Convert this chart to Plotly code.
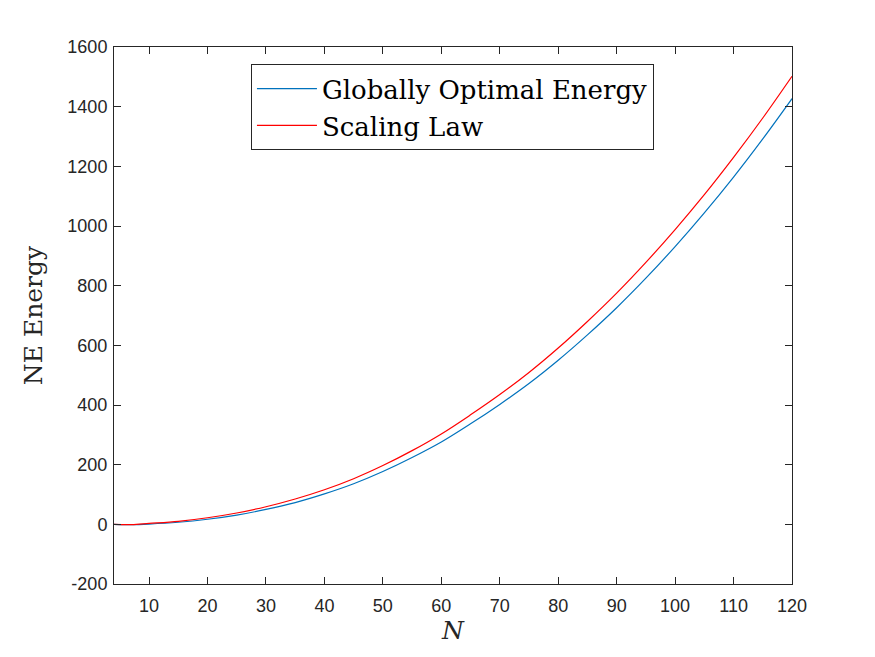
import plotly.graph_objects as go

N = [4, 7, 10, 15, 20, 25, 30, 35, 40, 45, 50, 55, 60, 65, 70, 75, 80, 85, 90, 95, 100, 105, 110, 115, 120]
globally_optimal = [0, -1, 1, 7, 17, 31, 50, 73, 102, 136, 177, 224, 276, 337, 402, 472, 550, 635, 726, 825, 931, 1044, 1164, 1292, 1427]
scaling_law = [0, -1, 3, 10, 22, 38, 59, 85, 116, 153, 197, 247, 303, 367, 435, 509, 591, 680, 775, 878, 988, 1105, 1230, 1362, 1502]

x_ticks = [10, 20, 30, 40, 50, 60, 70, 80, 90, 100, 110, 120]
y_ticks = [-200, 0, 200, 400, 600, 800, 1000, 1200, 1400, 1600]
y_tick_labels = ["-200", "0", "200", "400", "600", "800", "1000", "1200", "1400", "1600"]

fig = go.Figure()
fig.add_trace(go.Scatter(x=N, y=globally_optimal, mode="lines", name="Globally Optimal Energy",
                         line=dict(color="#0072BD", width=1.2, shape="spline")))
fig.add_trace(go.Scatter(x=N, y=scaling_law, mode="lines", name="Scaling Law",
                         line=dict(color="#FF0000", width=1.2, shape="spline")))

axis_common = dict(showline=True, linecolor="#262626", linewidth=1, mirror="ticks",
                   ticks="inside", ticklen=7, tickcolor="#262626", showgrid=False, zeroline=False,
                   tickfont=dict(family="Liberation Sans, Arial", size=18, color="#262626"))

serif = "DejaVu Serif, Liberation Serif"

fig.update_layout(
    width=875, height=657,
    margin=dict(l=114, r=83, t=47, b=73),
    paper_bgcolor="white", plot_bgcolor="white",
    xaxis=dict(range=[4, 120], tickvals=x_ticks, ticklabelstandoff=5,
               title=dict(text="<i>N</i>", font=dict(family=serif, size=25, color="#262626"), standoff=6),
               **axis_common),
    yaxis=dict(range=[-200, 1600], tickvals=y_ticks, ticktext=y_tick_labels, ticklabelstandoff=2,
               title=dict(text="NE Energy", font=dict(family=serif, size=25, color="#262626"), standoff=17),
               **axis_common),
    legend=dict(x=0.202, y=0.968, xanchor="left", yanchor="top",
                bgcolor="white", bordercolor="#262626", borderwidth=1,
                font=dict(family=serif, size=26, color="black"),
                tracegroupgap=0, itemwidth=60),
    showlegend=True,
)

fig.write_html("out.html")
